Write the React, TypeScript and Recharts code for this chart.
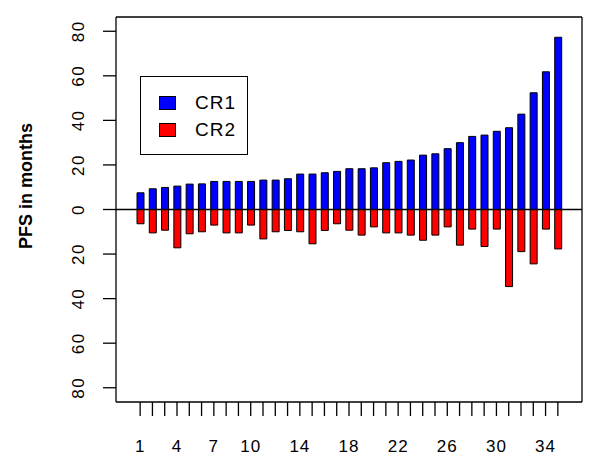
import React from "react";
import { BarChart, Bar, XAxis, YAxis, ReferenceLine, Legend, Label } from "recharts";

const categories = Array.from({ length: 35 }, (_, i) => String(i + 1));
const cr1 = [7.5, 9.3, 9.9, 10.5, 11.4, 11.5, 12.6, 12.6, 12.6, 12.6, 13.2, 13.2, 13.8, 15.9, 15.9, 16.5, 17.1, 18.3, 18.3, 18.7, 21.0, 21.6, 22.2, 24.4, 25.0, 27.3, 30.0, 32.8, 33.4, 35.1, 36.7, 42.8, 52.4, 61.8, 77.3];
const cr2 = [6.4, 10.5, 9.3, 17.2, 10.9, 10.0, 7.0, 10.5, 10.5, 7.0, 13.2, 10.0, 9.4, 10.0, 15.4, 9.4, 6.4, 9.3, 11.5, 7.8, 10.5, 10.5, 11.5, 13.8, 11.5, 7.8, 16.0, 8.8, 16.6, 8.8, 34.6, 18.9, 24.4, 8.8, 17.7];
const shownLabels = ["1", "4", "7", "10", "14", "18", "22", "26", "30", "34"];
const yTicks = [-80, -60, -40, -20, 0, 20, 40, 60, 80];

const data = categories.map((c, i) => ({ id: c, CR1: cr1[i], CR2: -cr2[i] }));

const FONT = "'Liberation Sans', Arial, sans-serif";

const XTick = ({ x, y, payload }: any) => {
    if (!shownLabels.includes(payload.value)) return null;
    return (
        <text x={x} y={y + 34} textAnchor="middle" fontSize={17} fontFamily={FONT} fill="#000" letterSpacing={1}>
            {payload.value}
        </text>
    );
};

const YTick = ({ x, y, payload }: any) => {
    const tx = x - 17;
    return (
        <text x={tx} y={y} transform={`rotate(-90 ${tx} ${y})`} textAnchor="middle" fontSize={17} fontFamily={FONT} fill="#000" letterSpacing={1.5}>
            {Math.abs(payload.value)}
        </text>
    );
};

const LegendBox = () => (
    <div style={{ width: 108, height: 79, border: "1px solid #000", boxSizing: "border-box", position: "relative", background: "#fff", fontFamily: FONT }}>
        {[
            { name: "CR1", color: "#0000ff", top: 19 },
            { name: "CR2", color: "#ff0000", top: 46 },
        ].map((item) => (
            <div key={item.name}>
                <div style={{ position: "absolute", left: 18, top: item.top, width: 15, height: 12, background: item.color, border: "1px solid #000" }} />
                <div style={{ position: "absolute", left: 54, top: item.top - 5, fontSize: 19, lineHeight: "24px", letterSpacing: 1 }}>{item.name}</div>
            </div>
        ))}
    </div>
);

export default function App() {
    return (
        <div style={{ position: "absolute", left: 0, top: 0, width: 600, height: 473, background: "#fff" }}>
            <BarChart width={600} height={473} data={data} stackOffset="sign" margin={{ top: 16, right: 17, bottom: 0, left: 0 }}>
                <XAxis
                    dataKey="id"
                    interval={0}
                    height={71}
                    padding={{ left: 18, right: 18 }}
                    tickSize={14}
                    tick={<XTick />}
                    axisLine={{ stroke: "#000", strokeWidth: 1.3 }}
                    tickLine={{ stroke: "#000", strokeWidth: 1.3 }}
                />
                <XAxis xAxisId="top" dataKey="id" orientation="top" height={1} tick={false} tickLine={false} axisLine={{ stroke: "#000", strokeWidth: 1.3 }} padding={{ left: 18, right: 18 }} />
                <YAxis
                    domain={[-86.4, 86.4]}
                    ticks={yTicks}
                    width={116}
                    tickSize={13}
                    tick={<YTick />}
                    axisLine={{ stroke: "#000", strokeWidth: 1.3 }}
                    tickLine={{ stroke: "#000", strokeWidth: 1.3 }}
                    allowDataOverflow
                >
                    <Label
                        content={() => (
                            <text x={0} y={0} transform="translate(32 186) rotate(-90)" textAnchor="middle" fontSize={18} fontWeight="bold" fontFamily={FONT} fill="#000">
                                PFS in months
                            </text>
                        )}
                    />
                </YAxis>
                <YAxis yAxisId="right" orientation="right" width={1} domain={[-86.4, 86.4]} tick={false} tickLine={false} axisLine={{ stroke: "#000", strokeWidth: 1.3 }} />
                <Legend layout="vertical" align="center" verticalAlign="middle" content={<LegendBox />} wrapperStyle={{ left: 140, top: 76, width: 108, height: 79 }} />
                <ReferenceLine y={0} stroke="#000" strokeWidth={1.5} />
                <Bar dataKey="CR1" stackId="s" fill="#0000ff" stroke="#000" strokeWidth={1} barSize={7} isAnimationActive={false} />
                <Bar dataKey="CR2" stackId="s" fill="#ff0000" stroke="#000" strokeWidth={1} barSize={7} isAnimationActive={false} />
            </BarChart>
        </div>
    );
}
